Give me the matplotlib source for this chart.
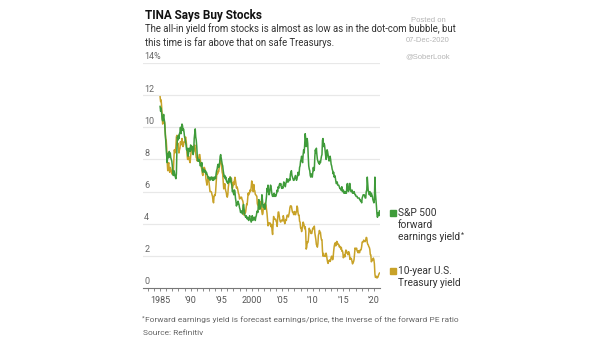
import numpy as np
import matplotlib.pyplot as plt

# monthly values, Jan 1985 - Dec 2020 (percent)
years = np.arange(1985, 2021)

sp500_fwd_yield = [
    11.3, 11.0, 11.2, 10.9, 10.5, 10.4, 10.6, 10.8, 10.5, 10.3, 9.6, 9.2,   # 1985
    8.6, 8.2, 7.8, 8.3, 8.4, 8.1, 8.5, 8.2, 8.4, 8.1, 8.0, 7.9,             # 1986
    7.6, 7.2, 7.0, 7.3, 7.2, 7.0, 6.9, 6.8, 7.1, 8.6, 9.4, 9.2,             # 1987
    9.5, 9.3, 9.6, 9.7, 10.0, 9.6, 9.9, 10.2, 10.1, 9.8, 9.9, 9.7,          # 1988
    9.4, 9.3, 9.1, 8.9, 8.6, 8.7, 8.4, 8.2, 8.4, 8.7, 8.6, 8.5,             # 1989
    8.9, 8.8, 8.6, 8.8, 8.4, 8.3, 8.5, 9.3, 9.6, 9.9, 9.4, 9.2,             # 1990
    8.8, 8.2, 7.9, 8.0, 7.9, 8.0, 7.8, 7.6, 7.7, 7.6, 7.8, 7.3,             # 1991
    7.2, 7.3, 7.4, 7.3, 7.2, 7.3, 7.1, 7.2, 7.1, 7.0, 6.9, 6.8,             # 1992
    6.9, 6.8, 6.7, 6.8, 6.9, 6.8, 6.9, 6.7, 6.8, 6.7, 6.9, 6.8,             # 1993
    6.9, 6.8, 7.1, 7.3, 7.4, 7.6, 7.7, 7.5, 7.6, 7.8, 8.2, 8.3,             # 1994
    8.1, 7.9, 7.7, 7.6, 7.3, 7.1, 6.9, 7.0, 6.8, 6.9, 6.7, 6.6,             # 1995
    6.6, 6.5, 6.7, 6.8, 6.6, 6.6, 6.9, 6.8, 6.5, 6.4, 6.0, 6.1,             # 1996
    5.9, 5.8, 6.1, 6.0, 5.6, 5.4, 5.1, 5.3, 5.2, 5.4, 5.3, 5.2,             # 1997
    5.0, 4.9, 4.7, 4.7, 4.8, 4.7, 4.6, 5.1, 5.2, 4.9, 4.6, 4.5,             # 1998
    4.4, 4.5, 4.4, 4.3, 4.4, 4.3, 4.2, 4.4, 4.5, 4.3, 4.2, 4.1,             # 1999
    4.3, 4.5, 4.2, 4.3, 4.4, 4.3, 4.4, 4.2, 4.4, 4.5, 4.7, 4.8,             # 2000
    4.7, 5.1, 5.5, 5.1, 4.9, 5.0, 5.1, 5.3, 5.8, 5.5, 5.1, 5.0,             # 2001
    5.1, 5.2, 4.9, 5.1, 5.4, 5.7, 6.2, 6.0, 6.4, 6.0, 5.8, 5.9,             # 2002
    6.2, 6.4, 6.3, 6.0, 5.8, 5.7, 5.8, 5.7, 5.9, 5.7, 5.8, 5.7,             # 2003
    5.8, 5.9, 6.1, 6.0, 6.3, 6.2, 6.4, 6.5, 6.4, 6.5, 6.3, 6.2,             # 2004
    6.3, 6.2, 6.4, 6.6, 6.4, 6.5, 6.3, 6.5, 6.6, 6.8, 6.6, 6.7,             # 2005
    6.6, 6.7, 6.8, 6.7, 7.1, 7.2, 7.3, 7.0, 6.9, 6.8, 6.7, 6.7,             # 2006
    6.8, 6.9, 7.0, 6.8, 6.7, 6.8, 7.0, 7.2, 7.0, 7.1, 7.5, 7.6,             # 2007
    7.9, 8.0, 8.2, 7.9, 7.8, 8.3, 8.6, 8.4, 8.9, 9.6, 9.3, 8.8,             # 2008
    8.9, 9.3, 9.0, 8.2, 7.6, 7.4, 7.3, 7.0, 6.9, 7.1, 7.0, 6.9,             # 2009
    7.2, 7.5, 7.3, 7.4, 8.2, 8.6, 8.4, 8.7, 8.3, 8.0, 7.9, 7.8,             # 2010
    7.8, 7.7, 7.9, 7.8, 8.0, 8.2, 8.3, 9.2, 9.3, 8.8, 9.0, 8.9,             # 2011
    8.6, 8.3, 8.0, 8.1, 8.6, 8.5, 8.3, 8.1, 7.9, 8.1, 8.2, 8.0,             # 2012
    7.7, 7.6, 7.4, 7.3, 7.1, 7.2, 6.9, 7.0, 6.9, 6.7, 6.5, 6.5,             # 2013
    6.6, 6.4, 6.4, 6.4, 6.3, 6.2, 6.2, 6.1, 6.1, 6.3, 6.0, 6.0,             # 2014
    6.1, 5.9, 6.0, 5.9, 5.9, 6.0, 5.9, 6.4, 6.5, 6.1, 6.0, 6.1,             # 2015
    6.5, 6.5, 6.1, 6.0, 6.0, 6.1, 5.9, 5.9, 5.9, 6.0, 5.9, 5.8,             # 2016
    5.8, 5.7, 5.7, 5.7, 5.6, 5.6, 5.6, 5.6, 5.5, 5.5, 5.4, 5.4,             # 2017
    5.3, 5.6, 5.7, 5.8, 5.8, 5.8, 5.7, 5.6, 5.6, 6.0, 6.1, 6.9,             # 2018
    6.4, 6.0, 6.0, 5.8, 6.0, 5.8, 5.7, 5.9, 5.8, 5.7, 5.5, 5.4,             # 2019
    5.3, 5.5, 6.9, 5.9, 5.5, 5.1, 4.6, 4.4, 4.6, 4.7, 4.5, 4.8,             # 2020
]

treasury_10y = [
    11.9, 11.6, 11.7, 11.3, 10.8, 10.2, 10.3, 10.3, 10.4, 10.2, 9.8, 9.3,   # 1985
    9.2, 8.7, 7.8, 7.3, 7.7, 7.8, 7.3, 7.2, 7.5, 7.4, 7.3, 7.1,             # 1986
    7.1, 7.2, 7.2, 8.0, 8.6, 8.4, 8.5, 8.8, 9.4, 9.5, 8.9, 9.0,             # 1987
    8.7, 8.4, 8.6, 8.7, 9.1, 8.9, 9.1, 9.3, 9.0, 8.8, 8.9, 9.1,             # 1988
    9.1, 9.2, 9.4, 9.2, 8.9, 8.3, 8.0, 8.1, 8.2, 8.0, 7.9, 7.8,             # 1989
    8.2, 8.5, 8.6, 8.8, 8.8, 8.5, 8.5, 8.8, 8.9, 8.7, 8.4, 8.1,             # 1990
    8.1, 7.9, 8.1, 8.0, 8.1, 8.3, 8.3, 8.0, 7.7, 7.5, 7.4, 7.1,             # 1991
    7.0, 7.3, 7.5, 7.5, 7.4, 7.3, 6.8, 6.6, 6.4, 6.6, 6.9, 6.8,             # 1992
    6.6, 6.3, 6.0, 6.0, 6.0, 5.96, 5.8, 5.7, 5.4, 5.3, 5.7, 5.8,            # 1993
    5.75, 5.97, 6.48, 6.97, 7.18, 7.1, 7.3, 7.24, 7.46, 7.74, 7.96, 7.81,   # 1994
    7.78, 7.47, 7.2, 7.06, 6.63, 6.17, 6.28, 6.49, 6.2, 6.04, 5.93, 5.71,   # 1995
    5.65, 5.81, 6.27, 6.51, 6.74, 6.91, 6.87, 6.64, 6.83, 6.53, 6.2, 6.3,   # 1996
    6.58, 6.42, 6.69, 6.89, 6.71, 6.49, 6.22, 6.3, 6.21, 6.03, 5.88, 5.81,  # 1997
    5.54, 5.57, 5.65, 5.64, 5.65, 5.5, 5.46, 5.34, 4.81, 4.53, 4.83, 4.65,  # 1998
    4.72, 5.0, 5.23, 5.18, 5.54, 5.9, 5.79, 5.94, 5.92, 6.11, 6.03, 6.28,   # 1999
    6.66, 6.52, 6.26, 5.99, 6.44, 6.1, 6.05, 5.83, 5.8, 5.74, 5.72, 5.24,   # 2000
    5.16, 5.1, 4.89, 5.14, 5.39, 5.28, 5.24, 4.97, 4.73, 4.57, 4.65, 5.09,  # 2001
    5.04, 4.91, 5.28, 5.21, 5.16, 4.93, 4.65, 4.26, 3.87, 3.94, 4.05, 4.03, # 2002
    4.05, 3.9, 3.81, 3.96, 3.57, 3.33, 3.98, 4.45, 4.27, 4.29, 4.3, 4.27,   # 2003
    4.15, 4.08, 3.83, 4.35, 4.72, 4.73, 4.5, 4.28, 4.13, 4.1, 4.19, 4.23,   # 2004
    4.22, 4.17, 4.5, 4.34, 4.14, 4.0, 4.18, 4.26, 4.2, 4.46, 4.54, 4.47,    # 2005
    4.42, 4.57, 4.72, 4.99, 5.11, 5.11, 5.09, 4.88, 4.72, 4.73, 4.6, 4.56,  # 2006
    4.76, 4.72, 4.56, 4.69, 4.75, 5.1, 5.0, 4.67, 4.52, 4.53, 4.15, 4.1,    # 2007
    3.74, 3.74, 3.51, 3.68, 3.88, 4.1, 4.01, 3.89, 3.69, 3.81, 3.53, 2.42,  # 2008
    2.52, 2.87, 2.82, 2.93, 3.29, 3.72, 3.56, 3.59, 3.4, 3.39, 3.4, 3.59,   # 2009
    3.73, 3.69, 3.73, 3.85, 3.42, 3.2, 3.01, 2.7, 2.65, 2.54, 2.76, 3.29,   # 2010
    3.39, 3.58, 3.41, 3.46, 3.17, 3.0, 3.0, 2.3, 1.98, 2.15, 2.01, 1.98,    # 2011
    1.97, 1.97, 2.17, 2.05, 1.8, 1.62, 1.53, 1.68, 1.72, 1.75, 1.65, 1.72,  # 2012
    1.91, 1.98, 1.96, 1.76, 1.93, 2.3, 2.58, 2.74, 2.81, 2.62, 2.72, 2.9,   # 2013
    2.86, 2.71, 2.72, 2.71, 2.56, 2.6, 2.54, 2.42, 2.53, 2.3, 2.33, 2.21,   # 2014
    1.88, 1.98, 2.04, 1.94, 2.2, 2.36, 2.32, 2.17, 2.17, 2.07, 2.26, 2.24,  # 2015
    2.09, 1.78, 1.89, 1.81, 1.81, 1.64, 1.5, 1.56, 1.63, 1.76, 2.14, 2.49,  # 2016
    2.43, 2.42, 2.48, 2.3, 2.3, 2.19, 2.32, 2.21, 2.2, 2.36, 2.35, 2.4,     # 2017
    2.58, 2.86, 2.84, 2.87, 2.98, 2.91, 2.89, 2.89, 3.0, 3.15, 3.12, 2.83,  # 2018
    2.71, 2.68, 2.57, 2.53, 2.4, 2.07, 2.06, 1.63, 1.7, 1.71, 1.81, 1.86,   # 2019
    1.76, 1.5, 0.87, 0.66, 0.67, 0.73, 0.62, 0.65, 0.68, 0.79, 0.87, 0.93,  # 2020
]

y_ticks = [0, 2, 4, 6, 8, 10, 12, 14]
y_tick_labels = ["0", "2", "4", "6", "8", "10", "12", "14%"]
x_ticks = [1985, 1990, 1995, 2000, 2005, 2010, 2015, 2020]
x_tick_labels = ["1985", "'90", "'95", "2000", "'05", "'10", "'15", "'20"]

green = "#3f9b3a"
gold = "#c8a228"

t = np.repeat(years, 12) + np.tile(np.arange(12), len(years)) / 12

plt.rcParams['font.family'] = ['Roboto', 'DejaVu Sans']

fig = plt.figure(figsize=(6.05, 3.41), dpi=100)
ax = fig.add_axes([143 / 605, 1 - 288 / 341, 237 / 605, 225 / 341])

for v in y_ticks[1:]:
    ax.axhline(v, color="#e8e8e8", lw=0.9, zorder=0)

ax.plot(t, treasury_10y, color=gold, lw=1.1, zorder=2)
ax.plot(t, sp500_fwd_yield, color=green, lw=1.1, zorder=3)

ax.set_xlim(1982.2, 2021.0)
ax.set_ylim(0, 14)

for s in ["top", "right", "left"]:
    ax.spines[s].set_visible(False)
ax.spines["bottom"].set_color("#777777")
ax.spines["bottom"].set_linewidth(0.8)

ax.set_yticks([])
for v, lab in zip(y_ticks, y_tick_labels):
    ax.text(1982.4, v + 0.1, lab, fontsize=6.5, color="#666666",
            ha="left", va="bottom")

ax.set_xticks(x_ticks)
ax.set_xticklabels(x_tick_labels, fontsize=6.5, color="#555555")
ax.set_xticks(np.arange(1983, 2021), minor=True)
ax.tick_params(axis="x", which="both", length=2.5, width=0.6,
               color="#777777", pad=3)


def fx(px):
    return px / 605


def fy(py):
    return 1 - py / 341


def star_after(txt, size):
    # small raised asterisk right after a text item
    fig.canvas.draw()
    bb = txt.get_window_extent()
    fig.text(bb.x1 / 605 + 0.5 / 605, bb.y1 / 341 - 3.5 / 341, "*",
             fontsize=size, color=txt.get_color(), va="center")


# legend on the right
fig.patches.append(plt.Rectangle((fx(389.5), fy(216)), 6 / 605, 6 / 341,
                                 transform=fig.transFigure, color=green))
fig.patches.append(plt.Rectangle((fx(389.5), fy(274)), 6 / 605, 6 / 341,
                                 transform=fig.transFigure, color=gold))
leg_kw = dict(fontsize=7.3, color="#333333", va="center")
fig.text(fx(398), fy(213), "S&P 500", **leg_kw)
fig.text(fx(398), fy(225), "forward", **leg_kw)
ey = fig.text(fx(398), fy(237), "earnings yield", **leg_kw)
fig.text(fx(398), fy(271), "10-year U.S.", **leg_kw)
fig.text(fx(398), fy(283), "Treasury yield", **leg_kw)
star_after(ey, 5)

# headline and notes
fig.text(fx(145), fy(15), "TINA Says Buy Stocks", fontsize=8.5,
         fontweight="bold", color="#111111", va="center")
fig.text(fx(145), fy(29),
         "The all-in yield from stocks is almost as low as in the dot-com bubble, but",
         fontsize=6.95, color="#333333", va="center")
fig.text(fx(145), fy(43), "this time is far above that on safe Treasurys.",
         fontsize=6.95, color="#333333", va="center")
fig.text(fx(142), fy(318), "*", fontsize=4.5, color="#666666", va="center")
fig.text(fx(145), fy(320),
         "Forward earnings yield is forecast earnings/price, the inverse of the forward PE ratio",
         fontsize=6.05, color="#666666", va="center")
fig.text(fx(143), fy(333), "Source: Refinitiv", fontsize=6.05,
         color="#666666", va="center")

for yy, s in [(20, "Posted on"), (40, "07-Dec-2020"), (57, "@SoberLook")]:
    fig.text(fx(428), fy(yy), s, fontsize=5.5, color="#b5b5b5",
             ha="center", va="center", family="Liberation Sans")

fig.savefig("out.png", dpi=100)
